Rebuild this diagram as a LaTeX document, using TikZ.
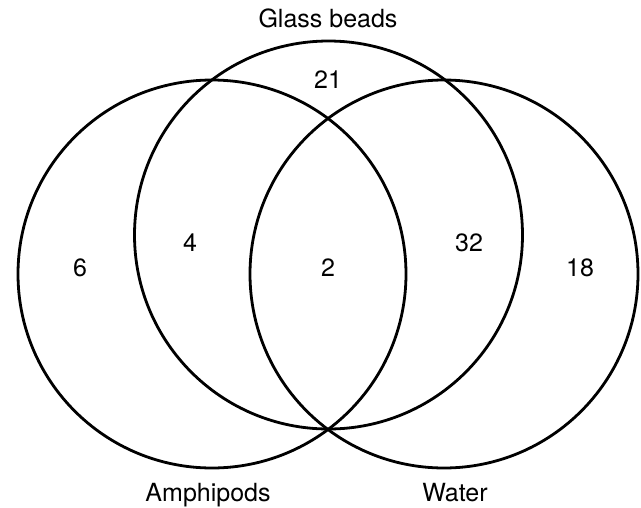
\documentclass[tikz,border=0pt]{standalone}
\usepackage{fontspec}
\setmainfont{TeX Gyre Heros}
\usepackage{tikz}

\begin{document}
\begin{tikzpicture}[x=1pt,y=-1pt,font=\fontsize{25}{30}\selectfont,
  set/.style={draw,circle,line width=2.8pt,inner sep=0pt,minimum size=388pt},
  count/.style={inner sep=0pt},
  setname/.style={anchor=base,inner sep=0pt}]
\useasboundingbox (0,0) rectangle (641,507);
\node[set] (amph) at (212,274) {};
\node[set] (glass) at (328.5,235) {};
\node[set] (water) at (444,274) {};
\node[setname] (glassname) at (328,27) {Glass beads};
\node[setname] (amphname) at (208,501) {Amphipods};
\node[setname] (watername) at (455,501) {Water};
\node[count] (n6) at (80,268) {6};
\node[count] (n4) at (190,243) {4};
\node[count] (n21) at (328,80) {21};
\node[count] (n2) at (328,268) {2};
\node[count] (n32) at (469,243) {32};
\node[count] (n18) at (580,268) {18};
\end{tikzpicture}
\end{document}
